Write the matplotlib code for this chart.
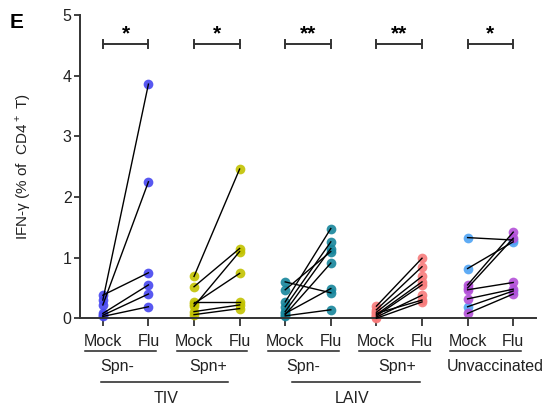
import matplotlib
matplotlib.use("Agg")
import matplotlib.pyplot as plt

plt.rcParams['font.family'] = ['Liberation Sans', 'DejaVu Sans']
plt.rcParams['mathtext.fontset'] = 'custom'
plt.rcParams['mathtext.rm'] = 'Liberation Sans'

# paired samples: mock vs flu stimulation, IFN-g (% of CD4+ T)
tiv_neg_mock = [0.30, 0.22, 0.38, 0.08, 0.05, 0.03]
tiv_neg_flu = [3.86, 2.25, 0.75, 0.55, 0.40, 0.19]

tiv_pos_mock = [0.69, 0.52, 0.20, 0.24, 0.27, 0.11, 0.06]
tiv_pos_flu = [2.46, 1.15, 1.10, 0.74, 0.27, 0.22, 0.16]

laiv_neg_mock = [0.60, 0.47, 0.27, 0.19, 0.11, 0.06, 0.08, 0.04]
laiv_neg_flu = [0.42, 1.10, 1.48, 1.26, 1.15, 0.91, 0.49, 0.14]

laiv_pos_mock = [0.20, 0.14, 0.10, 0.06, 0.04, 0.02, 0.08, 0.00]
laiv_pos_flu = [0.99, 0.85, 0.69, 0.60, 0.55, 0.38, 0.30, 0.27]

unvac_mock = [1.33, 0.82, 0.19, 0.55, 0.50, 0.47, 0.32, 0.08]
unvac_flu = [1.29, 1.26, 0.45, 1.42, 1.32, 0.59, 0.48, 0.40]
unvac_colors = ['#4ea3f4', '#4ea3f4', '#4ea3f4',
                '#b34fd8', '#b34fd8', '#b34fd8', '#b34fd8', '#b34fd8']

group_colors = ['#4646f0', '#c2c200', '#16859b', '#f77b7b']
stars = ['*', '*', '**', '**', '*']
tick_labels = ['Mock', 'Flu'] * 5
sub_labels = ['Spn-', 'Spn+', 'Spn-', 'Spn+', 'Unvaccinated']
sub_label_x = [0.31, 2.32, 4.39, 6.46, 8.6]
vaccines = ['TIV', 'LAIV']

groups = [(tiv_neg_mock, tiv_neg_flu), (tiv_pos_mock, tiv_pos_flu),
          (laiv_neg_mock, laiv_neg_flu), (laiv_pos_mock, laiv_pos_flu)]

fig = plt.figure(figsize=(5.47, 4.08), dpi=100)
ax = fig.add_axes([0.1463, 0.2199, 0.8336, 0.7434])

dark = '#222222'
ms = 7

for i, (mock, flu) in enumerate(groups):
    x0 = 2 * i
    for m, f in zip(mock, flu):
        ax.plot([x0, x0 + 1], [m, f], color='black', lw=1, zorder=3,
                clip_on=False)
    ax.plot([x0] * len(mock), mock, 'o', color=group_colors[i], ms=ms,
            mec='none', alpha=0.9, zorder=2, clip_on=False)
    ax.plot([x0 + 1] * len(flu), flu, 'o', color=group_colors[i], ms=ms,
            mec='none', alpha=0.9, zorder=2, clip_on=False)

for m, f, c in zip(unvac_mock, unvac_flu, unvac_colors):
    ax.plot([8, 9], [m, f], color='black', lw=1, zorder=3, clip_on=False)
    ax.plot([8, 9], [m, f], 'o', color=c, ms=ms, mec='none', alpha=0.9,
            zorder=2, clip_on=False)

# significance brackets
for i, s in enumerate(stars):
    x0 = 2 * i
    ax.plot([x0, x0 + 1], [4.52, 4.52], color='#333333', lw=1.4)
    for xx in (x0, x0 + 1):
        ax.plot([xx, xx], [4.45, 4.59], color='#333333', lw=1.4)
    ax.text(x0 + 0.5, 4.6, s, ha='center', va='baseline', fontsize=15,
            fontweight='bold', color='black')

ax.set_xlim(-0.5, 9.5)
ax.set_ylim(0, 5)
ax.set_yticks(range(6))
ax.set_xticks(range(10))
ax.set_xticklabels(tick_labels, fontsize=11.5, color=dark)
ax.tick_params(axis='y', labelsize=11.5, labelcolor=dark, length=4,
               width=1.3, color='#333333', pad=2)
ax.tick_params(axis='x', length=6, width=1.3, color='#333333', pad=5)
for side in ('top', 'right'):
    ax.spines[side].set_visible(False)
for side in ('left', 'bottom'):
    ax.spines[side].set_color('#333333')
    ax.spines[side].set_linewidth(1.4)

ax.set_ylabel('IFN-\u03b3 (% of  CD4$^+$ T)', fontsize=11, color=dark)
ax.yaxis.set_label_coords(-0.103, 0.5)

# group labels under the axis
tr = ax.get_xaxis_transform()
for i, (lab, lx) in enumerate(zip(sub_labels, sub_label_x)):
    x0 = 2 * i
    ax.plot([x0 - 0.38, x0 + 1.17], [-0.108, -0.108], color=dark, lw=1.1,
            transform=tr, clip_on=False)
    ax.text(lx, -0.16, lab, transform=tr, ha='center', va='center',
            fontsize=11.5, color=dark)

for (xa, xb), xt, lab in zip([(-0.04, 2.75), (4.15, 6.96)], [1.38, 5.47],
                             vaccines):
    ax.plot([xa, xb], [-0.209, -0.209], color=dark, lw=1.1, transform=tr,
            clip_on=False)
    ax.text(xt, -0.263, lab, transform=tr, ha='center', va='center',
            fontsize=11.5, color=dark)

fig.text(10 / 547, 1 - 28 / 408, 'E', fontsize=15, fontweight='bold',
         ha='left', va='baseline')

fig.savefig('out.png', dpi=100)
